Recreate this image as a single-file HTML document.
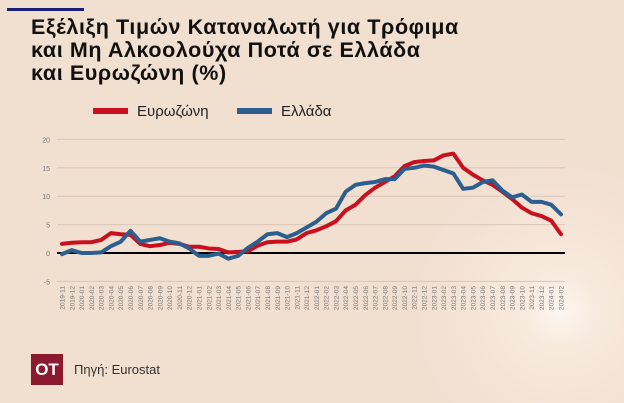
<!DOCTYPE html>
<html><head><meta charset="utf-8"><style>
html,body{margin:0;padding:0;overflow:hidden;width:624px;height:403px}
body{position:relative;background:#f1dfd0;font-family:"Liberation Sans","DejaVu Sans",sans-serif}
#glow{position:absolute;left:400px;top:150px;width:224px;height:253px;background:radial-gradient(circle at 160px 160px,rgba(255,250,245,0.85) 0%,rgba(252,240,230,0.6) 40px,rgba(241,223,208,0) 150px)}
#topbar{position:absolute;left:7px;top:8px;width:77px;height:3px;background:#1b1f7a}
#title{position:absolute;left:31px;top:16px;font-size:21.5px;font-weight:bold;line-height:23px;color:#111;white-space:nowrap;letter-spacing:0.6px}
.leg{position:absolute;top:103px;font-size:15px;color:#222}
.sw{display:inline-block;width:35px;height:6px;vertical-align:middle;margin-right:9px;position:relative;top:-1px}
#logo{position:absolute;left:31px;top:354px;width:32px;height:31px;background:#8b1a2f;color:#fff;font-weight:bold;font-size:17px;text-align:center;line-height:31px}
#src{position:absolute;left:74px;top:362px;font-size:13px;color:#333}
svg{position:absolute;left:0;top:0}
</style></head><body>
<div id="glow"></div>
<div id="topbar"></div>
<div id="title">Εξέλιξη Τιμών Καταναλωτή για Τρόφιμα<br>και Μη Αλκοολούχα Ποτά σε Ελλάδα<br>και Ευρωζώνη (%)</div>
<div class="leg" style="left:93px"><span class="sw" style="background:#c8101e"></span>Ευρωζώνη</div>
<div class="leg" style="left:237px"><span class="sw" style="background:#2a5f8f"></span>Ελλάδα</div>
<svg id="chart" width="624" height="403"></svg>
<div id="logo">OT</div>
<div id="src">Πηγή: Eurostat</div>
<script>
const categories=["2019-11","2019-12","2020-01","2020-02","2020-03","2020-04","2020-05","2020-06","2020-07","2020-08","2020-09","2020-10","2020-11","2020-12","2021-01","2021-02","2021-03","2021-04","2021-05","2021-06","2021-07","2021-08","2021-09","2021-10","2021-11","2021-12","2022-01","2022-02","2022-03","2022-04","2022-05","2022-06","2022-07","2022-08","2022-09","2022-10","2022-11","2022-12","2023-01","2023-02","2023-03","2023-04","2023-05","2023-06","2023-07","2023-08","2023-09","2023-10","2023-11","2023-12","2024-01","2024-02"];
const eurozone=[1.6,1.8,1.9,1.9,2.3,3.5,3.3,3.2,1.6,1.2,1.4,1.8,1.6,1.1,1.1,0.8,0.7,0.1,0.2,0.3,1.3,1.9,2.0,2.0,2.4,3.5,4.0,4.7,5.6,7.5,8.5,10.2,11.5,12.5,13.5,15.3,16.0,16.2,16.3,17.2,17.5,15.0,13.8,12.8,12.0,10.8,9.5,8.0,7.0,6.5,5.7,3.3];
const greece=[-0.2,0.5,0,0,0.1,1.2,2.0,3.9,2.0,2.3,2.6,2.0,1.7,0.8,-0.5,-0.5,-0.1,-1.0,-0.5,0.9,2.0,3.3,3.5,2.8,3.5,4.5,5.5,7.0,7.8,10.8,12.0,12.3,12.5,13.0,13.0,14.8,15.0,15.4,15.2,14.6,14.0,11.3,11.5,12.5,12.8,11.0,9.8,10.3,9.0,9.0,8.5,6.8];
const yTicks=[20,15,10,5,0,-5];
const NS="http://www.w3.org/2000/svg";
const svg=document.getElementById('chart');
const x0=62,x1=561,yZero=253,pxPerUnit=5.68;
const xs=i=>x0+i*(x1-x0)/(categories.length-1);
const ys=v=>yZero-v*pxPerUnit;
function mk(t,a){const e=document.createElementNS(NS,t);for(const k in a)e.setAttribute(k,a[k]);svg.appendChild(e);return e;}
yTicks.forEach(t=>{
  const l=mk('line',{x1:57,x2:565,y1:ys(t),y2:ys(t),stroke:t===0?'#000':'#d9c6b8','stroke-width':t===0?2:1});
  
  
  const tx=mk('text',{x:50,y:ys(t)+3,'text-anchor':'end','font-size':7,fill:'#777','font-family':'Liberation Sans, sans-serif'});
  tx.textContent=t;
  
  
});
categories.forEach((c,i)=>{
  const tx=mk('text',{x:0,y:0,transform:`translate(${xs(i)+2.5},${286}) rotate(-90)`,'text-anchor':'end','font-size':6.6,fill:'#777','font-family':'Liberation Sans, sans-serif'});
  tx.textContent=c;
  
  
});
function line(data,color,name){
  const p=mk('polyline',{points:data.map((v,i)=>xs(i)+','+ys(v)).join(' '),fill:'none',stroke:color,'stroke-width':4,'stroke-linejoin':'round','stroke-linecap':'round'});
  
  
}
line(eurozone,'#c8101e','eurozone-line');
line(greece,'#2a5f8f','greece-line');
</script>
</body></html>
